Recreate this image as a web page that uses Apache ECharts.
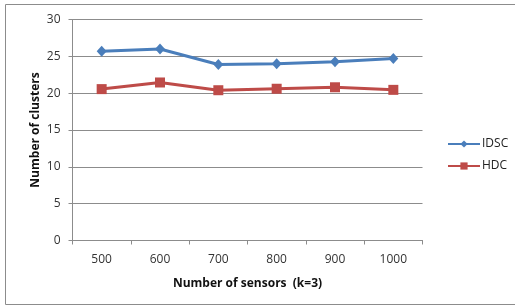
<!DOCTYPE html>
<html>
<head>
<meta charset="utf-8">
<script src="https://cdn.jsdelivr.net/npm/echarts@6/dist/echarts.min.js"></script>
<style>
  html, body { margin: 0; padding: 0; background: #fff; }
  #chart { width: 515px; height: 308px; }
</style>
</head>
<body>
<div id="chart"></div>
<script>
// data
const sensors = ['500', '600', '700', '800', '900', '1000']
const idsc = [25.7, 26.0, 23.9, 24.0, 24.25, 24.7]
const hdc = [20.55, 21.45, 20.4, 20.6, 20.8, 20.45]

const chart = echarts.init(document.getElementById('chart'))
const font = 'Open Sans'

const option = {
  animation: false,
  textStyle: { fontFamily: font },
  graphic: [
    {
      type: 'rect',
      shape: { x: 5.5, y: 4.5, width: 530, height: 300 },
      style: { fill: 'none', stroke: '#8c8c8c', lineWidth: 1 },
      silent: true
    }
  ],
  legend: {
    orient: 'vertical',
    left: 442,
    top: 133,
    itemGap: 10,
    itemWidth: 32,
    itemHeight: 9,
    textStyle: { fontFamily: font, fontSize: 12, color: '#222', padding: [0, 0, 0, -3] },
    data: ['IDSC', 'HDC']
  },
  grid: {
    left: 72.5,
    right: 92.5,
    top: 19.5,
    bottom: 67.5
  },
  xAxis: {
    type: 'category',
    data: sensors,
    boundaryGap: true,
    name: 'Number of sensors  (k=3)',
    nameLocation: 'middle',
    nameGap: 37,
    nameMoveOverlap: false,
    nameTextStyle: { fontFamily: font, fontSize: 12, fontWeight: 'bold', color: '#111' },
    axisLine: { lineStyle: { color: '#8c8c8c', width: 1 } },
    axisTick: { show: true, length: 4, lineStyle: { color: '#8c8c8c' } },
    axisLabel: { fontFamily: font, fontSize: 12, color: '#333', margin: 13 },
    splitLine: { show: false }
  },
  yAxis: {
    type: 'value',
    min: 0,
    max: 30,
    interval: 5,
    name: 'Number of clusters',
    nameLocation: 'middle',
    nameGap: 31,
    nameMoveOverlap: false,
    nameTextStyle: { fontFamily: font, fontSize: 12, fontWeight: 'bold', color: '#111' },
    axisLine: { show: true, lineStyle: { color: '#8c8c8c', width: 1 } },
    axisTick: { show: true, length: 4, lineStyle: { color: '#8c8c8c' } },
    axisLabel: { fontFamily: font, fontSize: 12, color: '#333', margin: 12 },
    splitLine: { show: true, lineStyle: { color: '#8c8c8c', width: 1 } }
  },
  series: [
    {
      name: 'IDSC',
      type: 'line',
      data: idsc,
      symbol: 'diamond',
      symbolSize: [10, 11],
      showAllSymbol: true,
      lineStyle: { color: '#4A7EBB', width: 3 },
      itemStyle: { color: '#4A7EBB' }
    },
    {
      name: 'HDC',
      type: 'line',
      data: hdc,
      symbol: 'rect',
      symbolSize: 10,
      showAllSymbol: true,
      lineStyle: { color: '#BE4B48', width: 3 },
      itemStyle: { color: '#BE4B48' }
    }
  ]
}

chart.setOption(option)
</script>
</body>
</html>
